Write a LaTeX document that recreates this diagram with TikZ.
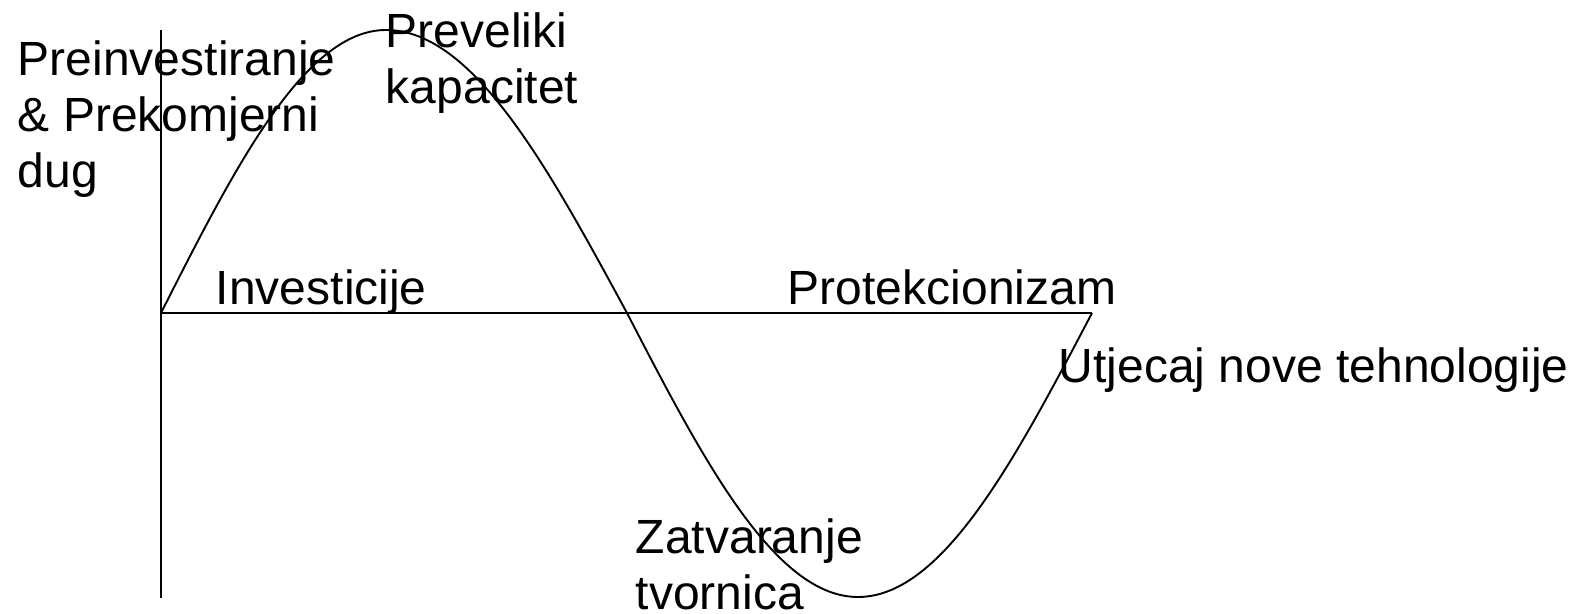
\documentclass[tikz,border=0pt]{standalone}
\usepackage{fontspec}
\setmainfont{Liberation Sans}
\usetikzlibrary{positioning}

\begin{document}
\begin{tikzpicture}[
		x=0.5pt,y=-0.5pt,
		line width=0.95pt,
		every node/.style={
			inner sep=0pt,
			align=left,
			anchor=base west,
			font=\fontsize{24}{28}\selectfont
		}
		]
		\useasboundingbox (0,0) rectangle (1576,614);
		
		\coordinate (O) at (161,313);
		\coordinate (top) at (161,30);
		\coordinate (bot) at (161,598);
		\coordinate (end) at (1092,313);
		\coordinate (peak) at (386,30);
		\coordinate (cross) at (627,313);
		\coordinate (trough) at (858,597);
		
		% axes
		\draw (top)--(bot);
		\draw (O)--(end);
		
		% cycle
		\draw (O) sin (peak) cos (cross) sin (trough) cos (end);
		
		\node (pre) at (17,188) {Preinvestiranje\\\& Prekomjerni\\dug};
		\node (kap) at (385,104) {Preveliki\\kapacitet};
		\node (inv) at (215,305) {Investicije};
		\node (prot) at (787,305) {Protekcionizam};
		\node (tech) at (1058,383) {Utjecaj nove tehnologije};
		\node (zat) at (635,610) {Zatvaranje\\tvornica};
		
	\end{tikzpicture}
\end{document}
